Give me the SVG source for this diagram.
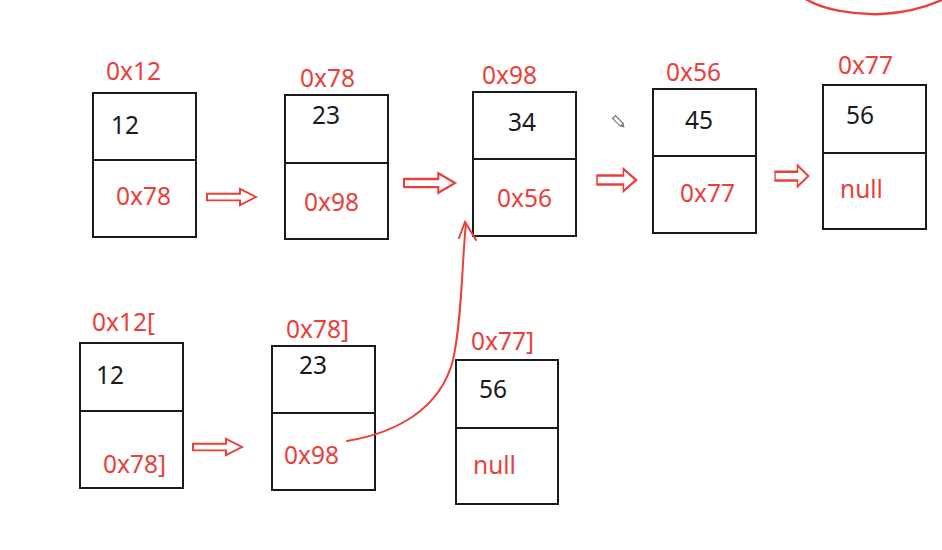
<svg xmlns="http://www.w3.org/2000/svg" width="942" height="550" viewBox="0 0 942 550">
<style>
.box{fill:none;stroke:#1a1a1a;stroke-width:2}
.r{fill:#e8413c;font-family:"Noto Sans","Open Sans",sans-serif;font-size:24.5px}
.k{fill:#1a1a1a;font-family:"Noto Sans","Open Sans",sans-serif;font-size:24.5px}
.ha{fill:#fff;stroke:#e8413c;stroke-width:2;stroke-linejoin:miter}
.ln{fill:none;stroke:#e8413c;stroke-width:2;stroke-linecap:round}
</style>
<defs>
<path id="hollow" d="M0,-3.5 L33,-3.5 L33,-8.5 L49,0 L33,8.5 L33,3.5 L0,3.5 Z"/>
</defs>
<rect width="942" height="550" fill="#fff"/>
<path class="ln" style="stroke-width:2.5" d="M804,-2 C822,10 855,15 882,14 C905,13 926,7 942,0"/>
<g id="n1"><text class="r" x="106" y="80">0x12</text><rect class="box" x="93" y="93" width="103" height="144"/><line class="box" x1="93" y1="160" x2="196" y2="160"/><text class="k" x="111" y="134">12</text><text class="r" x="116" y="205">0x78</text></g>
<g id="n2"><text class="r" x="300" y="87">0x78</text><rect class="box" x="285" y="95" width="103" height="144"/><line class="box" x1="285" y1="163" x2="388" y2="163"/><text class="k" x="312" y="124">23</text><text class="r" x="304" y="211">0x98</text></g>
<g id="n3"><text class="r" x="482" y="84">0x98</text><rect class="box" x="473" y="92" width="103" height="144"/><line class="box" x1="473" y1="159" x2="576" y2="159"/><text class="k" x="508" y="131">34</text><text class="r" x="497" y="207">0x56</text></g>
<g id="n4"><text class="r" x="666" y="81">0x56</text><rect class="box" x="653" y="89" width="103" height="144"/><line class="box" x1="653" y1="156" x2="756" y2="156"/><text class="k" x="685" y="129">45</text><text class="r" x="680" y="202">0x77</text></g>
<g id="n5"><text class="r" x="838" y="74">0x77</text><rect class="box" x="823" y="85" width="103" height="144"/><line class="box" x1="823" y1="153" x2="926" y2="153"/><text class="k" x="846" y="124">56</text><text class="r" x="840" y="198">null</text></g>
<g id="m1"><text class="r" x="92" y="331">0x12[</text><rect class="box" x="80" y="343" width="103" height="145"/><line class="box" x1="80" y1="411" x2="183" y2="411"/><text class="k" x="96" y="384">12</text><text class="r" x="103" y="473">0x78]</text></g>
<g id="m2"><text class="r" x="286" y="338">0x78]</text><rect class="box" x="272" y="346" width="103" height="144"/><line class="box" x1="272" y1="413" x2="375" y2="413"/><text class="k" x="299" y="374">23</text><text class="r" x="284" y="464">0x98</text></g>
<g id="m3"><text class="r" x="471" y="350">0x77]</text><rect class="box" x="456" y="360" width="102" height="144"/><line class="box" x1="456" y1="428" x2="558" y2="428"/><text class="k" x="479" y="398">56</text><text class="r" x="473" y="474">null</text></g>
<g id="cursor" transform="translate(619,122) rotate(-45)"><rect x="-2" y="-7" width="4" height="11" fill="#fff" stroke="#777" stroke-width="1.2"/><path d="M-2,4 L0,8 L2,4" fill="#777"/></g>
<g id="connectors">
<use href="#hollow" class="ha" transform="translate(207,197) scale(1,0.95)"/>
<use href="#hollow" class="ha" transform="translate(404,183) scale(1.04,1.15)"/>
<use href="#hollow" class="ha" transform="translate(597,180) scale(0.8,1.3)"/>
<use href="#hollow" class="ha" transform="translate(775,176) scale(0.68,1.25)"/>
<use href="#hollow" class="ha" transform="translate(193,447) scale(1.0,0.95)"/>
<path class="ln" d="M347,441 C395,433 440,410 453,360 C462,320 462,260 466,223"/>
<path class="ln" d="M459,238 L465,222 L476,240"/>
</g>
</svg>
